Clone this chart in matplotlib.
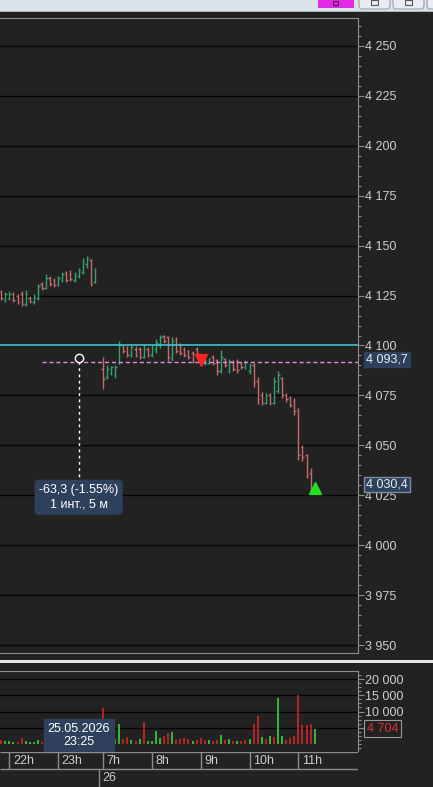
import numpy as np
import pandas as pd
import matplotlib
matplotlib.use("Agg")
from matplotlib import pyplot as plt
from matplotlib.patches import Rectangle, FancyBboxPatch
from matplotlib.ticker import MultipleLocator, FixedLocator, FuncFormatter

plt.rcParams["font.family"] = ["Liberation Sans", "DejaVu Sans"]

# 5-minute slots: evening session 25.05 (23:50 slot stays empty), morning 26.05
evening = pd.date_range("2026-05-25 21:50", "2026-05-25 23:50", freq="5min")
morning = pd.date_range("2026-05-26 07:00", "2026-05-26 11:20", freq="5min")
slots = evening.append(morning)
bar_times = slots.drop(pd.Timestamp("2026-05-25 23:50"))

bar_open = [
    4127, 4123, 4124, 4126, 4125, 4126, 4121, 4124, 4122, 4124, 4131, 4129,
    4134, 4133, 4131, 4133, 4137, 4136, 4133, 4135, 4137, 4141, 4143, 4132,
    4088, 4084, 4086, 4085, 4091, 4099.5, 4099, 4095, 4098, 4098, 4094, 4098, 4095,
    4098, 4100, 4105, 4104, 4093, 4103, 4100, 4098, 4097, 4096, 4098, 4095, 4091,
    4091, 4094, 4092.5, 4087, 4093, 4087, 4092, 4092, 4091, 4089, 4087, 4090, 4082,
    4075, 4071, 4075, 4071, 4077, 4083.5, 4075, 4074, 4072, 4068, 4049, 4045, 4036, 4029,
]
bar_high = [
    4128, 4127, 4127.5, 4127, 4126, 4127.5, 4128, 4125, 4126, 4131, 4132, 4136,
    4135, 4134, 4135, 4137, 4137.5, 4138, 4137, 4139, 4144, 4145, 4143.5, 4139,
    4094, 4090, 4089.5, 4090, 4102, 4100, 4099.5, 4100, 4099.5, 4099, 4100, 4099, 4100,
    4103, 4105.5, 4105.5, 4105, 4104, 4104, 4101, 4099, 4097.5, 4097, 4099, 4095.5, 4093,
    4093.5, 4095, 4093, 4097.5, 4093.5, 4093, 4092.5, 4093, 4092, 4092.5, 4091, 4091, 4084,
    4076.5, 4076, 4076, 4084, 4087, 4084, 4076, 4074.5, 4073.5, 4068.5, 4050, 4045.5, 4038.5, 4031,
]
bar_low = [
    4123, 4122, 4123, 4122, 4121, 4120, 4120, 4121.5, 4121, 4123, 4128, 4128.5,
    4130, 4129.5, 4130, 4132, 4132, 4132.5, 4132, 4134, 4136, 4139, 4130, 4131.5,
    4078, 4083, 4085, 4083.5, 4090.5, 4096, 4094, 4094, 4094, 4093, 4093.5, 4094, 4094,
    4096, 4098.5, 4101, 4092, 4092, 4096, 4095, 4094, 4093, 4091, 4094.5, 4091, 4090,
    4090.5, 4090, 4085, 4086, 4089, 4086, 4087, 4086, 4088, 4088, 4085.5, 4079, 4070.5,
    4070, 4070.5, 4070, 4070.5, 4076, 4073.5, 4071.5, 4069, 4065, 4042.5, 4042, 4033.5, 4026.5, 4027.5,
]
bar_close = [
    4124, 4126, 4126, 4123, 4122, 4121, 4126, 4122.5, 4125, 4130, 4129, 4134,
    4131, 4130.5, 4134, 4136, 4133, 4133.5, 4136, 4138, 4142, 4144, 4131, 4138,
    4083, 4088, 4089, 4089, 4100, 4097, 4095, 4099, 4095, 4094, 4098, 4095, 4099,
    4101, 4104, 4102, 4094, 4102, 4097, 4096, 4095, 4094, 4092, 4095.5, 4092, 4092.5,
    4093, 4091, 4087, 4094, 4090, 4092, 4088, 4087.5, 4089, 4091.5, 4090, 4081, 4073,
    4071, 4075, 4071, 4082, 4085, 4075, 4073, 4070, 4067, 4045, 4044, 4035, 4029, 4030.4,
]
volume = [
    1300, 800, 900, 700, 600, 1900, 800, 600, 600, 1200, 700, 1600,
    1400, 1100, 900, 1300, 1000, 1500, 900, 1200, 2200, 3000, 3800, 2000,
    11200, 2500, 1800, 1500, 6300, 1500, 2200, 1300, 800, 1500,
    6700, 800, 800, 3900, 1900, 2400, 3400, 3600, 1300, 1500,
    1900, 1500, 800, 1300, 1900, 1300, 1100, 800, 1300, 2900,
    1300, 1500, 800, 800, 800, 1300, 1500, 6300, 8600, 2100,
    1500, 2400, 2200, 14200, 2600, 1300, 1900, 2600, 15000, 5700,
    6000, 6200, 4704,
]
volume_side = ("rgggrrggggr" "grrggrrggggrg"
               "rggggrrgrgrggggrrgrrrrgrrrgrrgrgrgrrgrrgrgrggrrrrrrrg")

cross_time = pd.Timestamp("2026-05-25 23:25")
cross_price = 4093.7
last_price = 4030.4
level_price = 4091.5
level_from = pd.Timestamp("2026-05-25 22:40")
cyan_level = 4100
sell_time, sell_price = pd.Timestamp("2026-05-26 09:00"), 4092.5
buy_time, buy_price = pd.Timestamp("2026-05-26 11:20"), 4028.5

BG = "#222222"
GRID = "#050505"
EDGE = "#8c8c8c"
TEXT = "#cdcdcd"
BOX = "#2f405c"
UP, DOWN = "#35a070", "#c46a6a"
VUP, VDOWN = "#3fe03f", "#e02626"

W, H = 433, 787
SLOT_PX = 4.07


def px_box(left, top, right, bottom):
    return [left / W, 1 - bottom / H, (right - left) / W, (bottom - top) / H]


def thousands(v, pos=None):
    return f"{v:,.0f}".replace(",", " ")


def vol_label(v, pos=None):
    # the 5 000 label sits under the last-volume box
    return thousands(v) if v >= 10000 else ""


fig = plt.figure(figsize=(W / 100, H / 100), dpi=100, facecolor=BG)
ax = fig.add_axes(px_box(0, 18, 358, 653))
ax_vol = fig.add_axes(px_box(0, 671, 358, 751), sharex=ax)
ax_t = fig.add_axes(px_box(0, 752, 358, 787), sharex=ax)

x = slots.get_indexer(bar_times)
first_morning = slots.get_loc(morning[0])
ax.set_xlim(first_morning - 103 / SLOT_PX, first_morning + 255 / SLOT_PX)

# ---- price panel
ax.set_facecolor(BG)
ax.set_ylim(3946, 4264)
ax.yaxis.tick_right()
ax.yaxis.set_major_locator(MultipleLocator(25))
ax.yaxis.set_minor_locator(MultipleLocator(5))
ax.yaxis.set_major_formatter(FuncFormatter(thousands))
ax.tick_params(axis="y", which="major", length=4.3, width=0.8, color=EDGE,
               labelcolor=TEXT, labelsize=9, pad=1)
ax.tick_params(axis="y", which="minor", length=2.2, width=0.8, color=EDGE)
ax.tick_params(axis="x", which="both", bottom=False, labelbottom=False)
ax.grid(axis="y", which="major", color=GRID, lw=1)
ax.set_axisbelow(True)
for side in ("top", "right", "bottom"):
    ax.spines[side].set_color(EDGE)
ax.spines["left"].set_visible(False)

o, hi, lo, c = map(np.asarray, (bar_open, bar_high, bar_low, bar_close))
colors = np.where(c >= o, UP, DOWN)
ax.vlines(x, lo, hi, colors=colors, lw=1)
ax.hlines(o, x - 0.4, x, colors=colors, lw=1)
ax.hlines(c, x, x + 0.4, colors=colors, lw=1)

ax.axhline(cyan_level, color="#3cc8d2", lw=1.2)
cx = slots.get_loc(cross_time)
ax.hlines(level_price, slots.get_loc(level_from), ax.get_xlim()[1],
          colors="#e08ce0", linestyles=(0, (3, 2)), lw=1)
ax.vlines(cx, 4031, level_price, colors="white", linestyles=(0, (2, 2.5)), lw=1)
ax.plot(cx, cross_price, "o", ms=6, mfc="none", mec="white", mew=1)
ax.plot(slots.get_loc(sell_time), sell_price, "v", ms=8, color="#ff2222")
ax.plot(slots.get_loc(buy_time), buy_price, "^", ms=9, color="#22e022")

change = last_price - cross_price
pct = change / cross_price * 100
ax.text(cx, 4024, f"{change:.1f}".replace(".", ",") + f" ({pct:.2f}%)\n1 инт., 5 м",
        ha="center", va="center", color="white", fontsize=9, linespacing=1.25,
        bbox=dict(boxstyle="round,pad=0.3,rounding_size=0.25", fc=BOX, ec=BOX))

ytr = ax.get_yaxis_transform()
ax.text(1.022, 4093.0, f"{cross_price:,.1f}".replace(",", " ").replace(".", ","),
        transform=ytr, ha="left", va="center", color="#e8eef5", fontsize=9,
        clip_on=False, bbox=dict(boxstyle="square,pad=0.15", fc=BOX, ec=BOX))
ax.text(1.022, last_price, f"{last_price:,.1f}".replace(",", " ").replace(".", ","),
        transform=ytr, ha="left", va="center", color="#e8eef5", fontsize=9,
        clip_on=False, bbox=dict(boxstyle="square,pad=0.15", fc=BOX, ec="#7d8ba0"))

# ---- volume panel
ax_vol.set_facecolor(BG)
ax_vol.set_ylim(-2154, 22462)
ax_vol.yaxis.tick_right()
ax_vol.yaxis.set_major_locator(FixedLocator([5000, 10000, 15000, 20000]))
ax_vol.yaxis.set_minor_locator(MultipleLocator(1250))
ax_vol.yaxis.set_major_formatter(FuncFormatter(vol_label))
ax_vol.tick_params(axis="y", which="major", length=4.3, width=0.8, color=EDGE,
                   labelcolor=TEXT, labelsize=9, pad=1)
ax_vol.tick_params(axis="y", which="minor", length=2.2, width=0.8, color=EDGE)
ax_vol.tick_params(axis="x", which="both", bottom=False, labelbottom=False)
ax_vol.grid(axis="y", which="major", color=GRID, lw=1)
ax_vol.set_axisbelow(True)
for side in ("top", "right"):
    ax_vol.spines[side].set_color(EDGE)
for side in ("left", "bottom"):
    ax_vol.spines[side].set_visible(False)

vcolors = [VUP if s == "g" else VDOWN for s in volume_side]
ax_vol.vlines(x, 0, volume, colors=vcolors, lw=1.1)

ax_vol.text(cx, 2615, cross_time.strftime("%d.%m.%Y\n%H:%M"), ha="center", va="center",
            color="white", fontsize=9, linespacing=1.2, clip_on=False, zorder=5,
            bbox=dict(boxstyle="square,pad=0.3", fc=BOX, ec=BOX))
ax_vol.text(1.025, volume[-1], thousands(volume[-1]), transform=ax_vol.get_yaxis_transform(),
            ha="left", va="center", color="#e03030", fontsize=9, clip_on=False, zorder=5,
            bbox=dict(boxstyle="square,pad=0.2", fc=BG, ec="#9a9a9a", lw=0.8))

# ---- time axis
ax_t.set_facecolor(BG)
ax_t.set_ylim(35, 0)
ax_t.axis("off")
hours = slots[slots.minute == 0]
hx = slots.get_indexer(hours)
xl = ax.get_xlim()
ax_t.hlines([0, 17], xl[0], xl[1], colors=EDGE, lw=1)
ax_t.vlines(hx, 0, 17, colors=EDGE, lw=1)
for pos, t in zip(hx, hours):
    ax_t.annotate(f"{t.hour}h", (pos, 9), xytext=(2.5, 0), textcoords="offset points",
                  ha="left", va="center", color=TEXT, fontsize=9)
day_x = (slots.get_loc(evening[-2]) + first_morning) / 2
ax_t.vlines(day_x, 17, 35, colors=EDGE, lw=1)
ax_t.annotate(f"{morning[0].day}", (day_x, 26), xytext=(2.5, 0), textcoords="offset points",
              ha="left", va="center", color=TEXT, fontsize=9)
ax_t.set_xlim(xl)


# ---- window chrome
def px_rect(x0, y0, x1, y1, **kw):
    fig.add_artist(Rectangle((x0 / W, 1 - y1 / H), (x1 - x0) / W, (y1 - y0) / H,
                             transform=fig.transFigure, **kw))


px_rect(0, 0, W, 11, fc="#dde3ea", ec="none")
px_rect(0, 11, W, 12, fc="#aab4c0", ec="none")
px_rect(0, 660, W, 662.5, fc="#e6e6e6", ec="none")
px_rect(318, 0, 354, 8, fc="#e22ce2", ec="none")
px_rect(333, 1, 338, 5, fc="none", ec="#402040", lw=0.8)
for bx0, bx1 in ((359, 390), (393, 424), (427, 460)):
    fig.add_artist(FancyBboxPatch((bx0 / W, 1 - 9 / H), (bx1 - bx0) / W, 13 / H,
                                  boxstyle="round,pad=0,rounding_size=0.006",
                                  transform=fig.transFigure, fc="#e8edf2", ec="#98a2ae", lw=0.8))
    px_rect(bx0 + 12, 0, bx0 + 19, 5, fc="none", ec="#505860", lw=0.8)

fig.savefig("out.png", dpi=100, facecolor=BG)
